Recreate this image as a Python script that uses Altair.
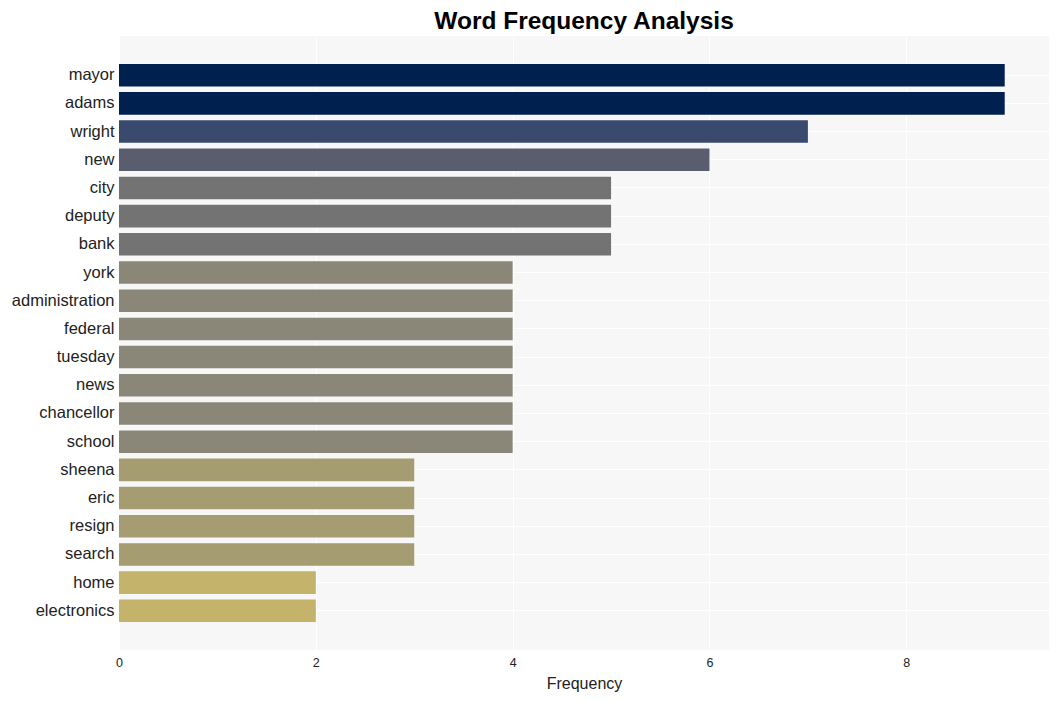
import altair as alt
import pandas as pd

words = ["mayor", "adams", "wright", "new", "city", "deputy", "bank", "york",
         "administration", "federal", "tuesday", "news", "chancellor", "school",
         "sheena", "eric", "resign", "search", "home", "electronics"]
counts = [9, 9, 7, 6, 5, 5, 5, 4, 4, 4, 4, 4, 4, 4, 3, 3, 3, 3, 2, 2]

color_levels = [2, 3, 4, 5, 6, 7, 9]
color_values = ["#c4b36a", "#a59c72", "#8a8678", "#737373", "#5a5d6e", "#3a4a6e", "#002050"]

df = pd.DataFrame({"word": words, "count": counts})

FONT = "Liberation Sans"

chart = alt.Chart(df).mark_bar().encode(
    y=alt.Y("word:N", sort=words, title=None,
            scale=alt.Scale(paddingInner=0.2, paddingOuter=0.99),
            axis=alt.Axis(bandPosition=0.5, grid=True, gridColor="white", gridWidth=1,
                          ticks=False, domain=False, labelPadding=5,
                          labelFontSize=16.5, labelColor="#222222", labelFont=FONT)),
    x=alt.X("count:Q", title="Frequency",
            scale=alt.Scale(domain=[0, 9.45], nice=False, zero=True),
            axis=alt.Axis(values=[0, 2, 4, 6, 8], grid=True, gridColor="white", gridWidth=1,
                          ticks=False, domain=False, labelPadding=6, labelFlush=False,
                          labelFontSize=12.5, labelColor="#222222", labelFont=FONT,
                          titleFontSize=16, titleFontWeight="normal", titleColor="#222222",
                          titleFont=FONT, titlePadding=7)),
    color=alt.Color("count:O", legend=None,
                    scale=alt.Scale(domain=color_levels, range=color_values)),
).properties(
    width=930,
    height=614,
    padding={"left": 111, "top": 28, "right": 1, "bottom": 43},
    autosize=alt.AutoSizeParams(type="none"),
    title=alt.TitleParams("Word Frequency Analysis", fontSize=24.5, font=FONT,
                          fontWeight="bold", color="black", anchor="middle", offset=2),
).configure_view(
    fill="#f7f7f7", stroke=None
)

chart.save("out.html", embed_options={"renderer": "svg", "actions": False})
